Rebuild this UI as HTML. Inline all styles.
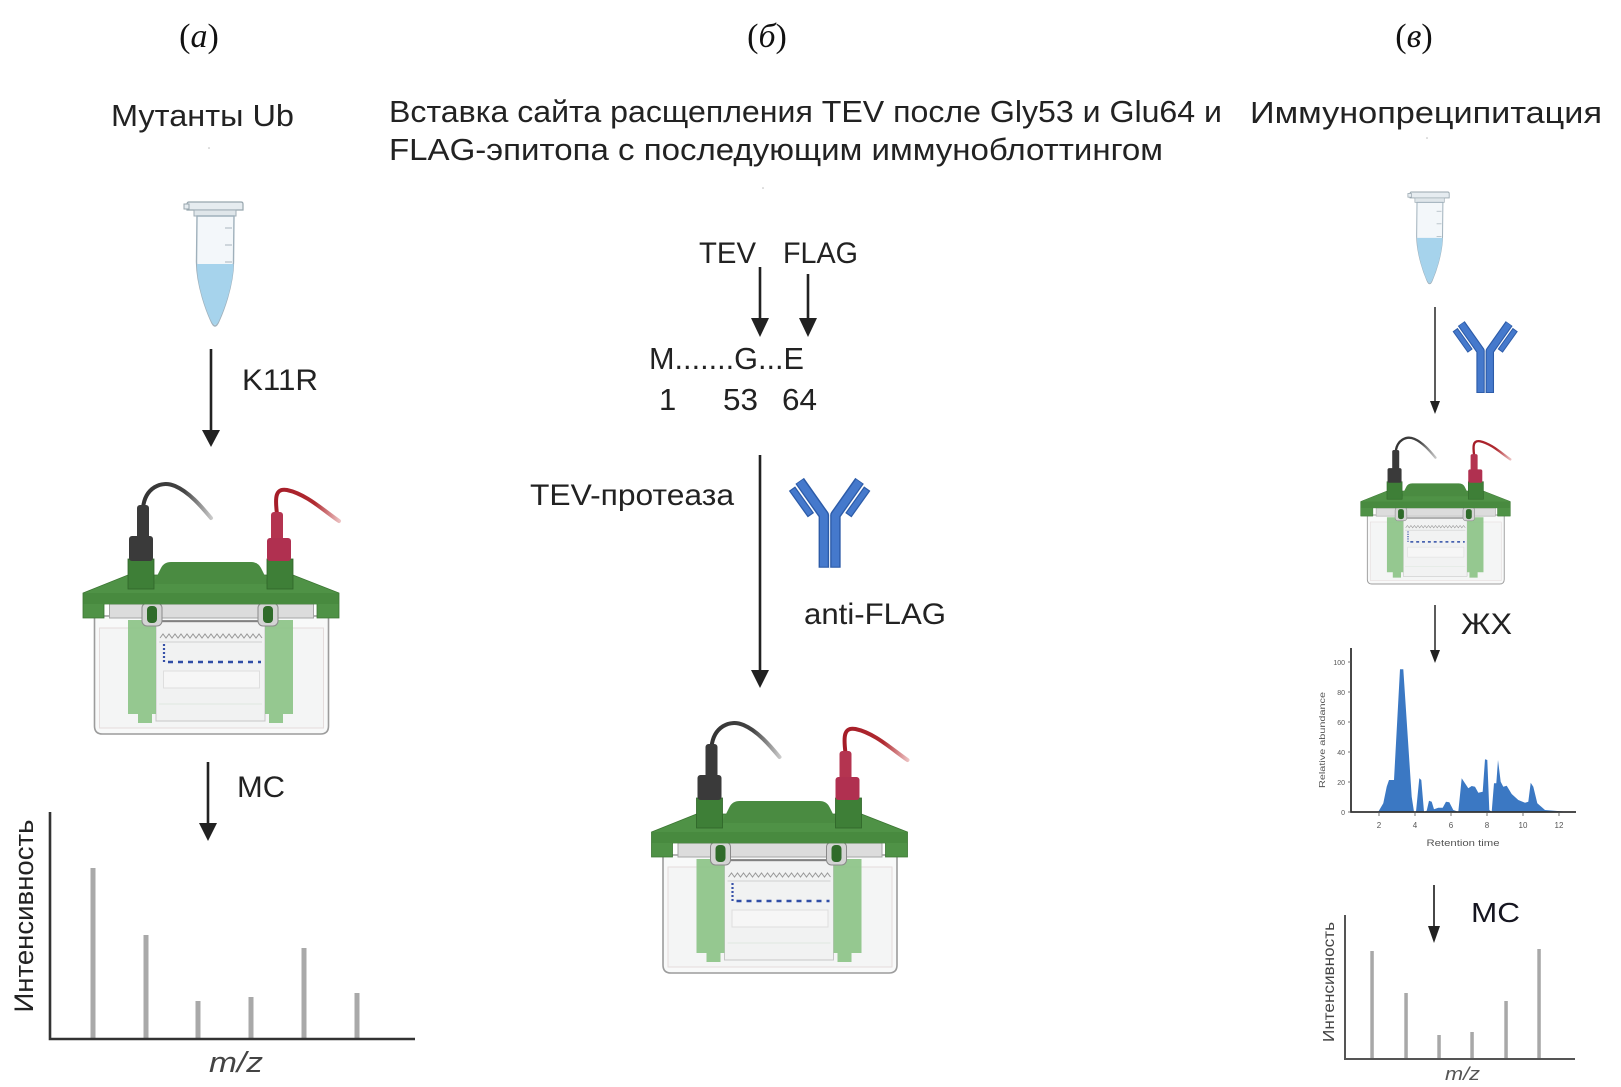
<!DOCTYPE html>
<html>
<head>
<meta charset="utf-8">
<style>
html,body{margin:0;padding:0;background:#fff;}
svg{display:block;}
text{font-family:"Liberation Sans","DejaVu Sans",sans-serif;fill:#222;}
.serif{font-family:"Liberation Serif","DejaVu Serif",serif;fill:#111;}
</style>
</head>
<body>
<svg width="1621" height="1087" viewBox="0 0 1621 1087" xmlns="http://www.w3.org/2000/svg">
<defs>
  <linearGradient id="bk" x1="-70" y1="0" x2="2" y2="0" gradientUnits="userSpaceOnUse">
    <stop offset="0" stop-color="#333"/><stop offset="0.6" stop-color="#444"/><stop offset="1" stop-color="#cfcfcf"/>
  </linearGradient>
  <linearGradient id="rd" x1="64" y1="0" x2="130" y2="0" gradientUnits="userSpaceOnUse">
    <stop offset="0" stop-color="#a51c28"/><stop offset="0.6" stop-color="#b02a30"/><stop offset="1" stop-color="#efc8c8"/>
  </linearGradient>
  <g id="gel">
    <!-- box -->
    <path d="M -116.5 -118 L -116.5 -8 Q -116.5 0 -108.5 0 L 109.5 0 Q 117.5 0 117.5 -8 L 117.5 -118 Z" fill="#f8f9f9" stroke="#9c9c9c" stroke-width="1.6"/>
    <rect x="-111.5" y="-106" width="224" height="100" fill="#f4f5f5" stroke="#e4dcdc" stroke-width="1"/>
    <!-- gel plate -->
    <rect x="-55" y="-112" width="109" height="99" fill="#f1f2f2" stroke="#c6c6c6" stroke-width="1"/>
    <rect x="-47.5" y="-63" width="96" height="17" fill="#f6f6f6" stroke="#dedede" stroke-width="1"/>
    <line x1="-52" y1="-30" x2="51" y2="-30" stroke="#e0e8e0" stroke-width="1"/>
    <!-- comb -->
    <polyline points="-51,-96 -48,-100 -45,-96 -42,-100 -39,-96 -36,-100 -33,-96 -30,-100 -27,-96 -24,-100 -21,-96 -18,-100 -15,-96 -12,-100 -9,-96 -6,-100 -3,-96 0,-100 3,-96 6,-100 9,-96 12,-100 15,-96 18,-100 21,-96 24,-100 27,-96 30,-100 33,-96 36,-100 39,-96 42,-100 45,-96 48,-100 51,-96" fill="none" stroke="#9a9a9a" stroke-width="1"/>
    <line x1="-52" y1="-92" x2="51" y2="-92" stroke="#d0d0d0" stroke-width="1"/>
    <!-- ladder + band -->
    <line x1="-47" y1="-90" x2="-47" y2="-72" stroke="#3650a8" stroke-width="2.2" stroke-dasharray="2 2"/>
    <line x1="-43" y1="-72" x2="50" y2="-72" stroke="#2f4da6" stroke-width="2.6" stroke-dasharray="5 5"/>
    <!-- green panels -->
    <path d="M -83 -114 H -55 V -20 H -59 V -11 H -73 V -20 H -83 Z" fill="#8cc387" fill-opacity="0.92"/>
    <path d="M 54 -114 H 82 V -20 H 72 V -11 H 58 V -20 H 54 Z" fill="#8cc387" fill-opacity="0.92"/>
    <!-- top line -->
    <line x1="-60" y1="-113" x2="60" y2="-113" stroke="#6a6a6a" stroke-width="1.5"/>
    <!-- grey bar -->
    <rect x="-101.5" y="-130" width="204" height="14" fill="#dcdcdc" stroke="#a6a6a6" stroke-width="1"/>
    <!-- clamps -->
    <rect x="-69" y="-131" width="20" height="23" rx="5" fill="#d4d4d4" stroke="#8a8a8a" stroke-width="1"/>
    <rect x="-64" y="-128" width="10" height="17" rx="4" fill="#2f6b2a"/>
    <rect x="47" y="-131" width="20" height="23" rx="5" fill="#d4d4d4" stroke="#8a8a8a" stroke-width="1"/>
    <rect x="52" y="-128" width="10" height="17" rx="4" fill="#2f6b2a"/>
    <!-- lid slab -->
    <polygon points="-128,-116 -128,-141 -83,-159 82,-159 128,-141 128,-116 106,-116 106,-130 -107,-130 -107,-116" fill="#4f9246" stroke="#3b7532" stroke-width="0.8"/>
    <rect x="-127.5" y="-141" width="255" height="11" fill="#488a3f"/>
    <!-- hump -->
    <path d="M -58 -150 L -50 -166 Q -47 -172 -40 -172 L 40 -172 Q 47 -172 50 -166 L 58 -150 Z" fill="#4a8b41"/>
    <!-- posts -->
    <rect x="-83" y="-175" width="26" height="30" fill="#3e7f37" stroke="#2f6428" stroke-width="0.8"/>
    <rect x="56" y="-175" width="26" height="30" fill="#3e7f37" stroke="#2f6428" stroke-width="0.8"/>
    <!-- cables -->
    <path d="M -68 -226 C -66 -246, -50 -254, -36 -248 C -22 -242, -10 -228, 0 -216" fill="none" stroke="url(#bk)" stroke-width="4" stroke-linecap="round"/>
    <path d="M 66 -220 C 64 -236, 64 -246, 76 -244 C 95 -240, 112 -224, 128 -213" fill="none" stroke="url(#rd)" stroke-width="4" stroke-linecap="round"/>
    <!-- connectors -->
    <rect x="-74" y="-229" width="12" height="34" rx="3" fill="#3a3a3a"/>
    <rect x="-82" y="-198" width="24" height="25" rx="3" fill="#3a3a3a"/>
    <rect x="60" y="-222" width="12" height="30" rx="3" fill="#b43450"/>
    <rect x="56" y="-196" width="24" height="23" rx="3" fill="#b03050"/>
  </g>
  <g id="ab">
    <polyline points="111,262 111,112 42,14" fill="none" stroke="#2c5ba8" stroke-width="30" stroke-linejoin="round"/>
    <polyline points="144,262 144,112 213,14" fill="none" stroke="#2c5ba8" stroke-width="30" stroke-linejoin="round"/>
    <polyline points="111,259 111,112 43,16" fill="none" stroke="#4579cc" stroke-width="22" stroke-linejoin="round"/>
    <polyline points="144,259 144,112 212,16" fill="none" stroke="#4579cc" stroke-width="22" stroke-linejoin="round"/>
    <line x1="127.5" y1="110" x2="127.5" y2="264" stroke="#dfe8f5" stroke-width="2.5"/>
    <line x1="74" y1="112" x2="20" y2="36" stroke="#2c5ba8" stroke-width="22"/>
    <line x1="181" y1="112" x2="235" y2="36" stroke="#2c5ba8" stroke-width="22"/>
    <line x1="72" y1="109" x2="22" y2="39" stroke="#4579cc" stroke-width="15"/>
    <line x1="183" y1="109" x2="233" y2="39" stroke="#4579cc" stroke-width="15"/>
  </g>
  <g id="tube">
    <path d="M 0 2 Q 0 0 2 0 L 54 0 Q 56 0 56 2 L 56 8 L 0 8 Z" fill="#e6ecf0" stroke="#98a6ae" stroke-width="1.2"/>
    <rect x="-3" y="2" width="5" height="5" fill="#e6ecf0" stroke="#98a6ae" stroke-width="1"/>
    <rect x="7" y="8" width="42" height="6" fill="#dfe6ea" stroke="#a0aeb6" stroke-width="1"/>
    <path d="M 10 14 L 47 14 L 46.5 60 C 46 85, 36 110, 32 119 Q 30 124 28 124 Q 26 124 24 119 C 20 110, 10 85, 9.5 60 Z" fill="#f3f7fa" stroke="#9fb0bb" stroke-width="1.4"/>
    <path d="M 10 62 L 46.5 62 C 46 85, 36 110, 32 118.5 Q 30 123 28 123 Q 26 123 24 118.5 C 20 110, 10 85, 10 62 Z" fill="#a6d3ec"/>
    <line x1="38" y1="26" x2="45" y2="26" stroke="#a9b6bd" stroke-width="1"/>
    <line x1="38" y1="43" x2="45" y2="43" stroke="#a9b6bd" stroke-width="1"/>
    <line x1="38" y1="60" x2="45" y2="60" stroke="#a9b6bd" stroke-width="1"/>
  </g>
</defs>

<!-- Panel labels -->
<text class="serif" x="199" y="47" font-size="34" text-anchor="middle">(<tspan font-style="italic">a</tspan>)</text>
<text class="serif" x="767" y="47" font-size="34" text-anchor="middle">(<tspan font-style="italic">б</tspan>)</text>
<text class="serif" x="1414" y="47" font-size="34" text-anchor="middle">(<tspan font-style="italic">в</tspan>)</text>

<!-- Headers -->
<text x="111" y="126" font-size="31" textLength="183" lengthAdjust="spacingAndGlyphs">Мутанты Ub</text>
<text x="389" y="122" font-size="31" textLength="833" lengthAdjust="spacingAndGlyphs">Вставка сайта расщепления TEV после Gly53 и Glu64 и</text>
<text x="389" y="160" font-size="31" textLength="774" lengthAdjust="spacingAndGlyphs">FLAG-эпитопа с последующим иммуноблоттингом</text>
<text x="1250" y="123" font-size="31" textLength="352" lengthAdjust="spacingAndGlyphs">Иммунопреципитация</text>
<circle cx="209" cy="148" r="0.8" fill="#bbb"/>
<circle cx="763" cy="188" r="0.8" fill="#bbb"/>
<circle cx="1427" cy="138" r="0.8" fill="#bbb"/>

<!-- ===== Panel a ===== -->
<use href="#tube" transform="translate(187,202)"/>
<line x1="211" y1="349" x2="211" y2="432" stroke="#222" stroke-width="2.6"/>
<polygon points="202,430 220,430 211,447" fill="#222"/>
<text x="242" y="390" font-size="30" textLength="76" lengthAdjust="spacingAndGlyphs">K11R</text>
<use href="#gel" transform="translate(211,734)"/>
<line x1="208" y1="762" x2="208" y2="826" stroke="#222" stroke-width="2.6"/>
<polygon points="199,823 217,823 208,841" fill="#222"/>
<text x="237" y="797" font-size="30" textLength="48" lengthAdjust="spacingAndGlyphs">МС</text>
<!-- MS chart a -->
<g fill="#a9a9a9">
  <rect x="90.5" y="868" width="5" height="170"/>
  <rect x="143.5" y="935" width="5" height="103"/>
  <rect x="195.5" y="1001" width="5" height="37"/>
  <rect x="248.5" y="997" width="5" height="41"/>
  <rect x="301.5" y="948" width="5" height="90"/>
  <rect x="354.5" y="993" width="5" height="45"/>
</g>
<polyline points="50,812 50,1039 415,1039" fill="none" stroke="#333" stroke-width="2.6"/>
<text transform="translate(33,916) rotate(-90)" x="0" y="0" font-size="27" text-anchor="middle" textLength="193" lengthAdjust="spacingAndGlyphs">Интенсивность</text>
<text x="209" y="1072" font-size="29" font-style="italic" fill="#444" style="fill:#444" textLength="54" lengthAdjust="spacingAndGlyphs">m/z</text>

<!-- ===== Panel b ===== -->
<text x="699" y="263" font-size="30" textLength="57" lengthAdjust="spacingAndGlyphs">TEV</text>
<text x="783" y="263" font-size="30" textLength="75" lengthAdjust="spacingAndGlyphs">FLAG</text>
<line x1="760" y1="267" x2="760" y2="320" stroke="#222" stroke-width="2.6"/>
<polygon points="751,318 769,318 760,337" fill="#222"/>
<line x1="808" y1="274" x2="808" y2="320" stroke="#222" stroke-width="2.6"/>
<polygon points="799,318 817,318 808,337" fill="#222"/>
<text x="649" y="369" font-size="31" textLength="155" lengthAdjust="spacingAndGlyphs">M.......G...E</text>
<text x="659" y="410" font-size="31">1</text>
<text x="723" y="410" font-size="31" textLength="35" lengthAdjust="spacingAndGlyphs">53</text>
<text x="782" y="410" font-size="31" textLength="35" lengthAdjust="spacingAndGlyphs">64</text>
<line x1="760" y1="455" x2="760" y2="672" stroke="#222" stroke-width="2.6"/>
<polygon points="751,670 769,670 760,688" fill="#222"/>
<text x="530" y="505" font-size="30" textLength="204" lengthAdjust="spacingAndGlyphs">TEV-протеаза</text>
<use href="#ab" transform="translate(785,476) scale(0.35)"/>
<text x="804" y="624" font-size="30" textLength="142" lengthAdjust="spacingAndGlyphs">anti-FLAG</text>
<use href="#gel" transform="translate(779.5,973)"/>

<!-- ===== Panel v ===== -->
<use href="#tube" transform="translate(1410,192) scale(0.7,0.74)"/>
<line x1="1435" y1="307" x2="1435" y2="403" stroke="#333" stroke-width="1.6"/>
<polygon points="1430,401 1440,401 1435,414" fill="#222"/>
<use href="#ab" transform="translate(1449.5,319.6) scale(0.28)"/>
<use href="#gel" transform="translate(1435.5,584) scale(0.585)"/>
<line x1="1435" y1="605" x2="1435" y2="652" stroke="#333" stroke-width="1.6"/>
<polygon points="1430,650 1440,650 1435,663" fill="#222"/>
<text x="1461" y="634" font-size="30" textLength="51" lengthAdjust="spacingAndGlyphs">ЖХ</text>

<!-- chromatogram -->
<path d="M 1378.3 811.7 L 1383.3 803.3 L 1386.7 786.7 L 1389 780 L 1394 780 L 1400 669.3 L 1403.3 669.3 L 1411.7 796.7 L 1414 811.7 L 1416 811.7 L 1419.3 778.3 L 1421.3 780 L 1424 811.7 L 1426.7 810.7 L 1429 800.7 L 1431.7 801.7 L 1434 809.3 L 1438.3 807.7 L 1442.7 807.7 L 1446 801.7 L 1449.3 802.3 L 1453.3 810 L 1458.3 811.7 L 1461.7 778.3 L 1465 783.3 L 1468.3 788.3 L 1471.7 786 L 1475 786.7 L 1478.3 792.7 L 1482.7 791.7 L 1485 759.3 L 1487.3 760 L 1489.3 810 L 1491.7 811.7 L 1494 783.3 L 1496.3 783.3 L 1498 760 L 1500.7 781.7 L 1503.3 786.7 L 1506.7 785.7 L 1511.7 794 L 1518.3 800 L 1525 802.7 L 1528.3 801.7 L 1530.7 782.7 L 1533.3 786.7 L 1537.3 803.3 L 1545 810 L 1566.7 811.7 Z" fill="#3b78c3"/>
<polyline points="1351,648 1351,812 1576,812" fill="none" stroke="#333" stroke-width="1.8"/>
<g stroke="#555" stroke-width="0.8">
  <line x1="1348" y1="662" x2="1351" y2="662"/><line x1="1348" y1="692" x2="1351" y2="692"/>
  <line x1="1348" y1="722" x2="1351" y2="722"/><line x1="1348" y1="752" x2="1351" y2="752"/>
  <line x1="1348" y1="782" x2="1351" y2="782"/><line x1="1348" y1="812" x2="1351" y2="812"/>
  <line x1="1379" y1="812" x2="1379" y2="816"/><line x1="1415" y1="812" x2="1415" y2="816"/>
  <line x1="1451" y1="812" x2="1451" y2="816"/><line x1="1487" y1="812" x2="1487" y2="816"/>
  <line x1="1523" y1="812" x2="1523" y2="816"/><line x1="1559" y1="812" x2="1559" y2="816"/>
</g>
<g font-size="7" style="fill:#555" text-anchor="end">
  <text x="1345" y="665" style="fill:#555">100</text>
  <text x="1345" y="695" style="fill:#555">80</text>
  <text x="1345" y="725" style="fill:#555">60</text>
  <text x="1345" y="755" style="fill:#555">40</text>
  <text x="1345" y="785" style="fill:#555">20</text>
  <text x="1345" y="815" style="fill:#555">0</text>
</g>
<g font-size="8" text-anchor="middle">
  <text x="1379" y="828" style="fill:#555">2</text>
  <text x="1415" y="828" style="fill:#555">4</text>
  <text x="1451" y="828" style="fill:#555">6</text>
  <text x="1487" y="828" style="fill:#555">8</text>
  <text x="1523" y="828" style="fill:#555">10</text>
  <text x="1559" y="828" style="fill:#555">12</text>
</g>
<text x="1463" y="846" font-size="9" text-anchor="middle" style="fill:#555" textLength="73" lengthAdjust="spacingAndGlyphs">Retention time</text>
<text transform="translate(1325,740) rotate(-90)" font-size="8.5" text-anchor="middle" style="fill:#555" textLength="96" lengthAdjust="spacingAndGlyphs">Relative abundance</text>

<!-- MS arrow v -->
<line x1="1434" y1="885" x2="1434" y2="928" stroke="#333" stroke-width="1.8"/>
<polygon points="1428,926 1440,926 1434,943" fill="#222"/>
<text x="1471" y="922" font-size="28" style="fill:#151520" textLength="49" lengthAdjust="spacingAndGlyphs">МС</text>
<!-- MS chart v -->
<g fill="#a8a8a8">
  <rect x="1370.3" y="951" width="3.5" height="107"/>
  <rect x="1404.3" y="993" width="3.5" height="65"/>
  <rect x="1437.3" y="1035" width="3.5" height="23"/>
  <rect x="1470.3" y="1032" width="3.5" height="26"/>
  <rect x="1504.3" y="1001" width="3.5" height="57"/>
  <rect x="1537.3" y="949" width="3.5" height="109"/>
</g>
<polyline points="1345,915 1345,1059 1575,1059" fill="none" stroke="#555" stroke-width="2"/>
<text transform="translate(1334,982) rotate(-90)" font-size="16" text-anchor="middle" style="fill:#444" textLength="120" lengthAdjust="spacingAndGlyphs">Интенсивность</text>
<text x="1445" y="1080" font-size="18" font-style="italic" style="fill:#555" textLength="35" lengthAdjust="spacingAndGlyphs">m/z</text>
</svg>
</body>
</html>
